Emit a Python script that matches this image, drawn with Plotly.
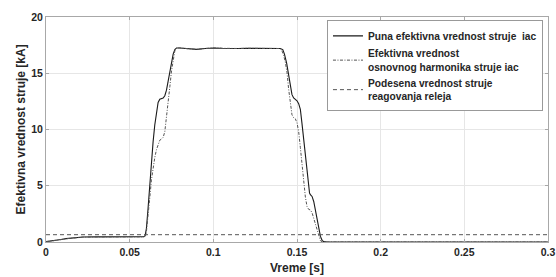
import plotly.graph_objects as go

# Time [s] and RMS values [kA]
t_full = [0, 0.003, 0.006, 0.009, 0.012, 0.015, 0.018, 0.022, 0.030, 0.040, 0.050, 0.0585,
          0.0592, 0.060, 0.061, 0.062, 0.063, 0.064, 0.065, 0.066, 0.067, 0.068, 0.069, 0.070,
          0.071, 0.072, 0.073, 0.074, 0.075, 0.076, 0.077, 0.078, 0.080, 0.085, 0.090, 0.095,
          0.100, 0.105, 0.110, 0.115, 0.120, 0.125, 0.130, 0.135, 0.140, 0.1415, 0.1425, 0.1438,
          0.145, 0.146, 0.147, 0.148, 0.149, 0.150, 0.151, 0.152, 0.153, 0.154, 0.155, 0.156,
          0.157, 0.1575, 0.158, 0.159, 0.160, 0.161, 0.162, 0.163, 0.164, 0.165, 0.166, 0.168, 0.300]
i_full = [0.03, 0.08, 0.15, 0.22, 0.30, 0.36, 0.40, 0.44, 0.46, 0.47, 0.47, 0.47,
          0.55, 1.2, 3.0, 5.2, 7.2, 8.9, 10.4, 11.6, 12.4, 12.7, 12.75, 12.8,
          13.0, 13.5, 14.3, 15.2, 16.0, 16.7, 17.1, 17.25, 17.25, 17.18, 17.12, 17.2,
          17.25, 17.22, 17.18, 17.2, 17.22, 17.2, 17.2, 17.22, 17.2, 17.1, 16.7, 15.9,
          14.7, 13.7, 13.1, 12.8, 12.65, 12.55, 12.3, 11.8, 10.5, 9.1, 7.6, 6.2,
          4.8, 4.35, 4.2, 4.05, 3.6, 2.9, 2.0, 1.2, 0.5, 0.15, 0.03, 0.0, 0.0]

t_fund = [0, 0.003, 0.006, 0.009, 0.012, 0.015, 0.018, 0.022, 0.030, 0.040, 0.050, 0.0585,
          0.0598, 0.061, 0.062, 0.063, 0.064, 0.065, 0.066, 0.067, 0.068, 0.069, 0.070,
          0.071, 0.072, 0.073, 0.074, 0.075, 0.076, 0.077, 0.078, 0.080, 0.085, 0.090, 0.095,
          0.100, 0.105, 0.110, 0.115, 0.120, 0.125, 0.130, 0.135, 0.140, 0.141, 0.142, 0.143,
          0.144, 0.145, 0.146, 0.147, 0.148, 0.149, 0.150, 0.151, 0.152, 0.153, 0.154, 0.155,
          0.156, 0.157, 0.158, 0.159, 0.160, 0.161, 0.162, 0.163, 0.164, 0.165, 0.167, 0.300]
i_fund = [0.02, 0.07, 0.14, 0.21, 0.29, 0.35, 0.39, 0.43, 0.45, 0.46, 0.46, 0.46,
          0.6, 2.2, 3.9, 5.5, 6.6, 7.5, 8.2, 8.75, 9.05, 9.15, 9.3,
          9.8, 11.0, 12.3, 13.8, 15.2, 16.3, 17.0, 17.25, 17.25, 17.18, 17.12, 17.2,
          17.25, 17.22, 17.18, 17.2, 17.22, 17.2, 17.2, 17.22, 17.2, 17.0, 16.6, 16.0,
          15.1, 13.6, 12.2, 11.3, 11.05, 10.95, 10.6, 9.8, 8.4, 6.8, 5.3, 4.0,
          3.15, 2.9, 2.85, 2.6, 2.1, 1.6, 1.0, 0.5, 0.12, 0.02, 0.0, 0.0]

t_set = [0, 0.3]
i_set = [0.65, 0.65]

names = ["Puna efektivna vrednost struje  iac",
         "Efektivna vrednost<br>osnovnog harmonika struje iac",
         "Podesena vrednost struje<br>reagovanja releja"]

x_ticks = [0, 0.05, 0.1, 0.15, 0.2, 0.25, 0.3]
x_tick_text = ["0", "0.05", "0.1", "0.15", "0.2", "0.25", "0.3"]
y_ticks = [0, 5, 10, 15, 20]
x_title = "Vreme [s]"
y_title = "Efektivna vrednost struje [kA]"

FONT = "Liberation Sans"
TXT = "#262626"

fig = go.Figure()
fig.add_trace(go.Scatter(x=t_full, y=i_full, mode="lines", name=names[0],
                         line=dict(color="#1a1a1a", width=1.1)))
fig.add_trace(go.Scatter(x=t_fund, y=i_fund, mode="lines", name=names[1],
                         line=dict(color="#555555", width=1, dash="3px,1.5px,1px,1.5px")))
fig.add_trace(go.Scatter(x=t_set, y=i_set, mode="lines", name=names[2],
                         line=dict(color="#555555", width=1, dash="4px,3px")))

axis_common = dict(showline=True, linecolor="#a8a8a8", linewidth=1, mirror="ticks",
                   ticks="inside", ticklen=3, tickcolor="#a8a8a8", automargin=False,
                   showgrid=True, gridcolor="#e6e6e6", gridwidth=1, zeroline=False,
                   tickfont=dict(family=FONT, size=10.5, color=TXT, weight="bold"))

fig.update_xaxes(range=[0, 0.3], tickvals=x_ticks, ticktext=x_tick_text, **axis_common)
fig.update_yaxes(range=[0, 20], tickvals=y_ticks, **axis_common)

title_font = dict(family=FONT, size=12, color=TXT, weight="bold")
fig.add_annotation(text=x_title, xref="paper", yref="paper", x=0.5, y=-0.115,
                   xanchor="center", yanchor="middle", showarrow=False, font=title_font)
fig.add_annotation(text=y_title, xref="paper", yref="paper", x=-0.05, y=0.5,
                   xanchor="center", yanchor="middle", textangle=-90, showarrow=False,
                   font=title_font)

fig.update_layout(
    width=556, height=277,
    margin=dict(l=46, r=8, t=17, b=35),
    plot_bgcolor="white", paper_bgcolor="white",
    legend=dict(x=0.99, y=0.985, xanchor="right", yanchor="top",
                bgcolor="white", bordercolor="#999999", borderwidth=1,
                font=dict(family=FONT, size=10.2, color=TXT, weight="bold"),
                tracegroupgap=0, itemwidth=30),
    showlegend=True,
)

fig.write_html("out.html", config={"displayModeBar": False},
               post_script="document.body.style.margin='0';document.body.style.overflow='hidden';")
